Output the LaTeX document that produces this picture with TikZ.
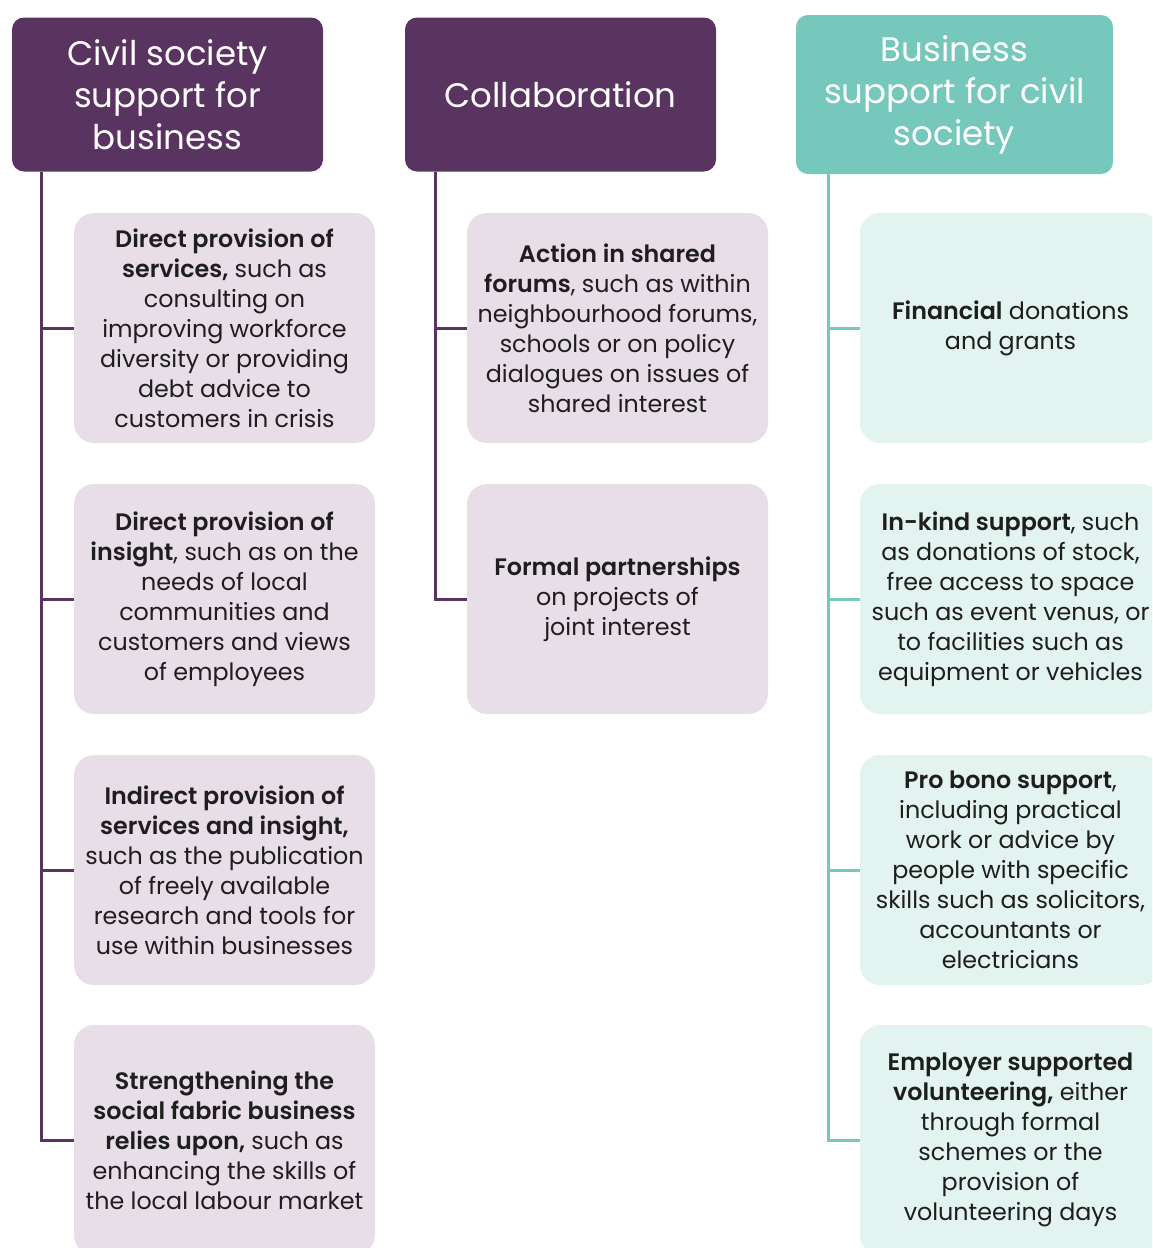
\documentclass[tikz,border=0pt]{standalone}
\usepackage{fontspec}
\setmainfont{Poppins}[BoldFont={Poppins SemiBold}]
\definecolor{plum}{HTML}{5A3461}
\definecolor{lilac}{HTML}{E8DEE7}
\definecolor{sea}{HTML}{76C7BC}
\definecolor{mint}{HTML}{E3F3F0}
\definecolor{ink}{HTML}{1E1E1E}

\begin{document}
\begin{tikzpicture}[x=1pt,y=-1pt,
  head/.style={rounded corners=12pt,text=white,align=center,inner sep=0pt,
    minimum width=311pt,minimum height=154pt,font=\fontsize{34}{42}\selectfont},
  item/.style={rounded corners=20pt,text=ink,align=center,inner sep=0pt,
    minimum width=301pt,minimum height=230pt,font=\fontsize{23.8}{30}\selectfont},
  trunk/.style={line width=3pt}]

\useasboundingbox (0,0) rectangle (1152,1248);
\clip (0,0) rectangle (1152,1248);

% column heads
\node[head,fill=plum] (h1) at (167.5,94.5) {Civil society\\support for\\business};
\node[head,fill=plum] (h2) at (560.5,94.5) {Collaboration};
\node[head,fill=sea,minimum width=317pt,minimum height=159pt] (h3) at (954.5,94.5)
  {Business\\support for civil\\society};

% civil society side
\node[item,fill=lilac] (c11) at (224.5,328) {\textbf{Direct provision of}\\\textbf{services,} such as\\consulting on\\improving workforce\\diversity or providing\\debt advice to\\customers in crisis};
\node[item,fill=lilac] (c12) at (224.5,599) {\textbf{Direct provision of}\\\textbf{insight}, such as on the\\needs of local\\communities and\\customers and views\\of employees};
\node[item,fill=lilac] (c13) at (224.5,870) {\textbf{Indirect provision of}\\\textbf{services and insight,}\\such as the publication\\of freely available\\research and tools for\\use within businesses};
\node[item,fill=lilac] (c14) at (224.5,1140) {\textbf{Strengthening the}\\\textbf{social fabric business}\\\textbf{relies upon,} such as\\enhancing the skills of\\the local labour market};

% collaboration
\node[item,fill=lilac] (c21) at (617.5,328) {\textbf{Action in shared}\\\textbf{forums}, such as within\\neighbourhood forums,\\schools or on policy\\dialogues on issues of\\shared interest};
\node[item,fill=lilac] (c22) at (617.5,599) {\textbf{Formal partnerships}\\on projects of\\joint interest};

% business side
\node[item,fill=mint] (c31) at (1010.5,328) {\textbf{Financial} donations\\and grants};
\node[item,fill=mint] (c32) at (1010.5,599) {\textbf{In-kind support}, such\\as donations of stock,\\free access to space\\such as event venus, or\\to facilities such as\\equipment or vehicles};
\node[item,fill=mint] (c33) at (1010.5,870) {\textbf{Pro bono support},\\including practical\\work or advice by\\people with specific\\skills such as solicitors,\\accountants or\\electricians};
\node[item,fill=mint] (c34) at (1010.5,1140) {\textbf{Employer supported}\\\textbf{volunteering,} either\\through formal\\schemes or the\\provision of\\volunteering days};

% trunks and branches
\coordinate (s1) at ([xshift=30pt]h1.south west);
\coordinate (s2) at ([xshift=31pt]h2.south west);
\coordinate (s3) at ([xshift=33pt]h3.south west);

\draw[trunk,plum] (s1) |- (c14.west);
\foreach \i in {1,2,3}
  \draw[trunk,plum] (s1 |- c1\i.west) -- (c1\i.west);

\draw[trunk,plum] (s2) |- (c22.west);
\draw[trunk,plum] (s2 |- c21.west) -- (c21.west);

\draw[trunk,sea] (s3) |- (c34.west);
\foreach \i in {1,2,3}
  \draw[trunk,sea] (s3 |- c3\i.west) -- (c3\i.west);

\end{tikzpicture}
\end{document}
